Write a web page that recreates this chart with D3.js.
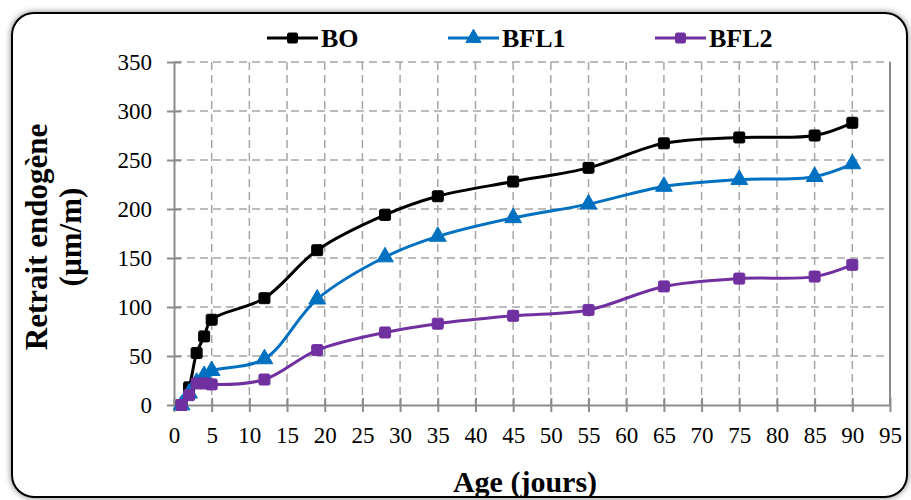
<!DOCTYPE html>
<html>
<head>
<meta charset="utf-8">
<script src="https://cdn.jsdelivr.net/npm/d3@7"></script>
<style>
  html, body { margin: 0; padding: 0; background: #fff; }
  svg { display: block; }
</style>
</head>
<body>
<svg id="chart" width="911" height="500"></svg>
<script>
// Endogenous shrinkage over time for three mixes
const days = [1, 2, 3, 4, 5, 12, 19, 28, 35, 45, 55, 65, 75, 85, 90];
const bo   = [0, 18, 53, 70, 87, 109, 158, 194, 213, 228, 242, 267, 273, 275, 288];
const bfl1 = [0, 12, 23, 30, 35, 47, 108, 151, 172, 191, 205, 223, 230, 233, 246];
const bfl2 = [0, 10, 22, 22, 21, 26, 56, 74, 83, 91, 97, 121, 129, 131, 143];
const seriesNames = ["BO", "BFL1", "BFL2"];
const xTicks = d3.range(0, 96, 5);
const yTicks = d3.range(0, 351, 50);

const series = [
  { name: seriesNames[0], values: bo,   color: "#000000", marker: "square" },
  { name: seriesNames[1], values: bfl1, color: "#0070C0", marker: "triangle" },
  { name: seriesNames[2], values: bfl2, color: "#7030A0", marker: "square" }
];

const svg = d3.select("#chart");
const plot = { left: 174, right: 890, top: 62, bottom: 405 };

// outer frame with soft shadow
const defs = svg.append("defs");
const f = defs.append("filter").attr("id", "shadow")
  .attr("x", "-5%").attr("y", "-5%").attr("width", "110%").attr("height", "110%");
f.append("feDropShadow").attr("dx", 0).attr("dy", 0)
  .attr("stdDeviation", 3).attr("flood-color", "#000").attr("flood-opacity", 0.5);

svg.append("rect")
  .attr("x", 12).attr("y", 13).attr("width", 895).attr("height", 484)
  .attr("rx", 22).attr("ry", 22)
  .attr("fill", "#fff").attr("stroke", "#000").attr("stroke-width", 2)
  .attr("filter", "url(#shadow)");

const x = d3.scaleLinear().domain([0, 95]).range([plot.left, plot.right]);
const y = d3.scaleLinear().domain([0, 350]).range([plot.bottom, plot.top]);

const gridColor = "#a6a6a6";
const axisColor = "#8c8c8c";

// dashed gridlines
const grid = svg.append("g");
grid.selectAll(".hg").data(yTicks.filter(d => d > 0)).join("line")
  .attr("x1", plot.left).attr("x2", plot.right)
  .attr("y1", d => y(d)).attr("y2", d => y(d))
  .attr("stroke", gridColor).attr("stroke-width", 1.5)
  .attr("stroke-dasharray", "8,5");
grid.selectAll(".vg").data(xTicks.filter(d => d > 0 && d < 95)).join("line")
  .attr("y1", plot.top).attr("y2", plot.bottom)
  .attr("x1", d => x(d)).attr("x2", d => x(d))
  .attr("stroke", gridColor).attr("stroke-width", 1.5)
  .attr("stroke-dasharray", "8,5");

// right border of the plot area
svg.append("line")
  .attr("x1", plot.right).attr("x2", plot.right)
  .attr("y1", plot.top).attr("y2", plot.bottom)
  .attr("stroke", axisColor).attr("stroke-width", 2);

// axes
const font = "'Liberation Serif', 'Times New Roman', serif";
const xAxis = svg.append("g").attr("transform", `translate(0,${plot.bottom})`)
  .call(d3.axisBottom(x).tickValues(xTicks).tickSize(7).tickPadding(16).tickSizeOuter(0));
const yAxis = svg.append("g").attr("transform", `translate(${plot.left},0)`)
  .call(d3.axisLeft(y).tickValues(yTicks).tickSize(7).tickPadding(16).tickSizeOuter(0));

[xAxis, yAxis].forEach(g => {
  g.select(".domain").attr("stroke", axisColor).attr("stroke-width", 2);
  g.selectAll(".tick line").attr("stroke", axisColor).attr("stroke-width", 2);
  g.selectAll(".tick text").attr("fill", "#000")
    .style("font-family", font).style("font-size", "23px");
});
// ticks cross the axis line
xAxis.selectAll(".tick line").attr("y1", -7).attr("y2", 7);
yAxis.selectAll(".tick line").attr("x1", -7).attr("x2", 7);
yAxis.selectAll(".tick text").attr("x", -22);
xAxis.selectAll(".tick text").attr("y", 22);

// series lines
const line = d3.line()
  .x((d, i) => x(days[i]))
  .y(d => y(d))
  .curve(d3.curveCatmullRom.alpha(0.5));

function drawMarker(g, type, color, cx, cy, size) {
  if (type === "square") {
    g.append("rect")
      .attr("x", cx - size / 2).attr("y", cy - size / 2)
      .attr("width", size).attr("height", size)
      .attr("rx", 1.5)
      .attr("fill", color).attr("stroke", color).attr("stroke-width", 1);
  } else {
    const tri = d3.symbol().type(d3.symbolTriangle).size(size * size);
    g.append("path").attr("d", tri())
      .attr("transform", `translate(${cx},${cy})`)
      .attr("fill", color).attr("stroke", color).attr("stroke-width", 1);
  }
}

series.forEach(s => {
  const g = svg.append("g");
  g.append("path").datum(s.values)
    .attr("d", line)
    .attr("fill", "none").attr("stroke", s.color).attr("stroke-width", 3);
  s.values.forEach((v, i) => drawMarker(g, s.marker, s.color, x(days[i]), y(v), 11));
});

// legend
const legendPos = [267, 448, 655];
series.forEach((s, i) => {
  const g = svg.append("g").attr("transform", `translate(${legendPos[i]},38)`);
  g.append("line").attr("x1", 0).attr("x2", 51).attr("y1", 0).attr("y2", 0)
    .attr("stroke", s.color).attr("stroke-width", 3);
  drawMarker(g, s.marker, s.color, 25.5, 0, 10);
  g.append("text").attr("x", 54).attr("y", 9)
    .style("font-family", font).style("font-size", "26px").style("font-weight", "bold")
    .attr("fill", "#000").text(s.name);
});

// axis titles
svg.append("text")
  .attr("x", 525).attr("y", 492)
  .attr("text-anchor", "middle")
  .style("font-family", font).style("font-size", "30px").style("font-weight", "bold")
  .text("Age (jours)");

const yt = svg.append("text")
  .attr("transform", "translate(0,237) rotate(-90)")
  .attr("text-anchor", "middle")
  .style("font-family", font).style("font-size", "31px").style("font-weight", "bold");
yt.append("tspan").attr("x", 0).attr("y", 47).text("Retrait endogène");
yt.append("tspan").attr("x", 0).attr("y", 81).text("(µm/m)");
</script>
</body>
</html>
